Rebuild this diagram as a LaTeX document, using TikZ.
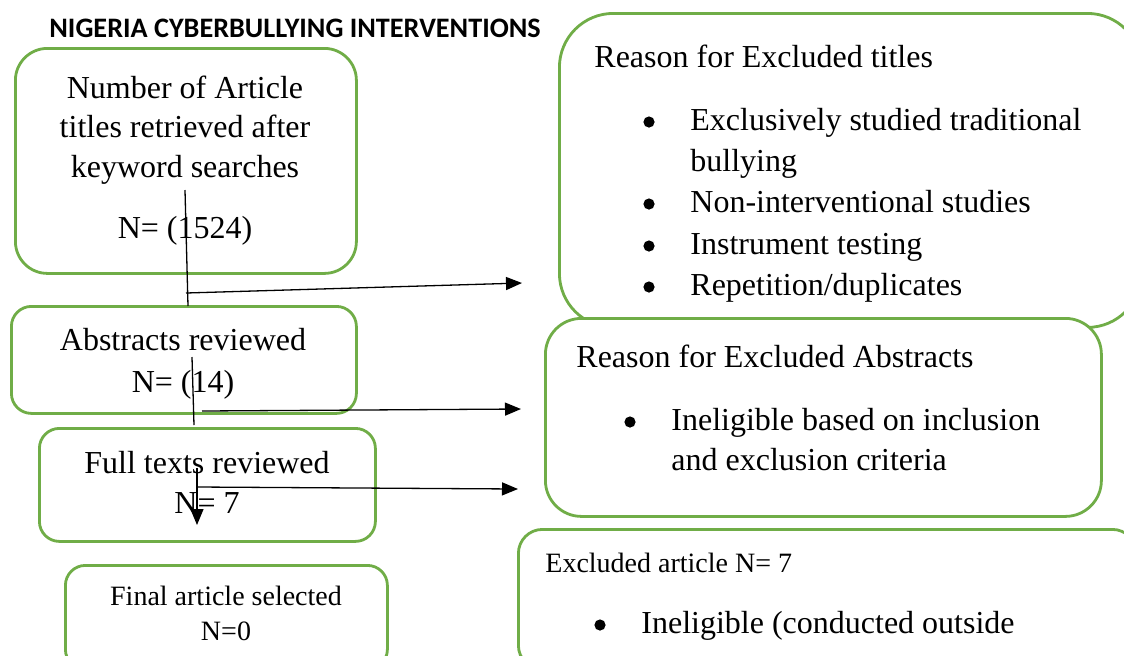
\documentclass[tikz,border=0pt]{standalone}
\usepackage{fontspec}
\setmainfont{Liberation Serif}
\newfontfamily\headfont{Carlito}
\usetikzlibrary{arrows.meta}
\definecolor{boxgreen}{RGB}{112,173,71}

\begin{document}
\begin{tikzpicture}[x=0.5pt,y=-0.5pt]
  \tikzstyle{flowbox} = [draw=boxgreen, line width=1.4pt, fill=white, anchor=north west, inner sep=0pt];
  \tikzstyle{txt} = [inner sep=0pt, anchor=base, font=\fontsize{16}{20}\selectfont];
  \tikzstyle{txtl} = [txt, anchor=base west];
  \tikzstyle{small} = [font=\fontsize{14}{17}\selectfont];
  \tikzstyle{dot} = [circle, fill=black, inner sep=0pt, minimum size=5.6pt];
  \tikzstyle{link} = [line width=0.65pt];
  \tikzstyle{linkarrow} = [link, -{Triangle[length=8pt, width=6.5pt]}];

  \useasboundingbox (0,0) rectangle (1124,655);
  \clip (0,0) rectangle (1124,655);

  \node[font=\headfont\bfseries\fontsize{14.1}{16}\selectfont, anchor=base, inner sep=0pt] (heading) at (295,37) {NIGERIA CYBERBULLYING INTERVENTIONS};

  % left column
  \node[flowbox, rounded corners=16pt, minimum width=170.5pt, minimum height=112.5pt] (titles) at (14,47) {};
  \node[flowbox, rounded corners=10pt, minimum width=172.5pt, minimum height=53.5pt] (abstracts) at (10,305) {};
  \node[flowbox, rounded corners=10pt, minimum width=168pt, minimum height=56.5pt] (fulltexts) at (38,427) {};
  \node[flowbox, rounded corners=10pt, minimum width=161pt, minimum height=52pt] (final) at (64,564) {};

  % right column
  \node[flowbox, rounded corners=27pt, minimum width=291pt, minimum height=157pt] (extitles) at (558,12) {};
  \node[flowbox, rounded corners=18pt, minimum width=278pt, minimum height=99pt] (exabstracts) at (544,317) {};
  \node[flowbox, rounded corners=12pt, minimum width=309pt, minimum height=70pt] (exarticles) at (517,528) {};

  \node[txt] (t1) at (185,98) {Number of Article};
  \node[txt] (t2) at (185,137) {titles retrieved after};
  \node[txt] (t3) at (185,177) {keyword searches};
  \node[txt] (t4) at (185,238) {N= (1524)};

  \node[txt] (a1) at (183,350) {Abstracts reviewed};
  \node[txt] (a2) at (183,392) {N= (14)};

  \node[txt] (f1) at (207,473) {Full texts reviewed};
  \node[txt] (f2) at (207,513) {N= 7};

  \node[txt, small] (s1) at (226,605) {Final article selected};
  \node[txt, small] (s2) at (226,640) {N=0};

  \node[txtl] (et0) at (594,67) {Reason for Excluded titles};
  \node[txtl] (et1) at (690,130) {Exclusively studied traditional};
  \node[txtl] (et2) at (690,171) {bullying};
  \node[txtl] (et3) at (690,212) {Non-interventional studies};
  \node[txtl] (et4) at (690,254) {Instrument testing};
  \node[txtl] (et5) at (690,295) {Repetition/duplicates};
  \foreach \y in {122,204,246,287}
    \node[dot] (etb\y) at (649,\y) {};

  \node[txtl] (ea0) at (576,367) {Reason for Excluded Abstracts};
  \node[dot] (eab) at (630,422) {};
  \node[txtl] (ea1) at (671,430) {Ineligible based on inclusion};
  \node[txtl] (ea2) at (671,470) {and exclusion criteria};

  \node[txtl, small] (ex0) at (545,572) {Excluded article N= 7};
  \node[dot] (exb) at (600,625) {};
  \node[txtl] (ex1) at (641,633) {Ineligible (conducted outside};

  % connectors
  \coordinate (v1a) at (185,190);
  \coordinate (v1b) at (188,306);
  \coordinate (h1a) at (186,293);
  \coordinate (h1b) at (522,283);
  \coordinate (v2a) at (192,357);
  \coordinate (v2b) at (194,425);
  \coordinate (h2a) at (202,411);
  \coordinate (h2b) at (521,409);
  \coordinate (v3a) at (197,468);
  \coordinate (v3b) at (197,525);
  \coordinate (h3a) at (198,487);
  \coordinate (h3b) at (518,489);

  \draw[link] (v1a) -- (v1b);
  \draw[linkarrow] (h1a) -- (h1b);
  \draw[link] (v2a) -- (v2b);
  \draw[linkarrow] (h2a) -- (h2b);
  \draw[linkarrow] (v3a) -- (v3b);
  \draw[linkarrow] (h3a) -- (h3b);

\end{tikzpicture}
\end{document}
